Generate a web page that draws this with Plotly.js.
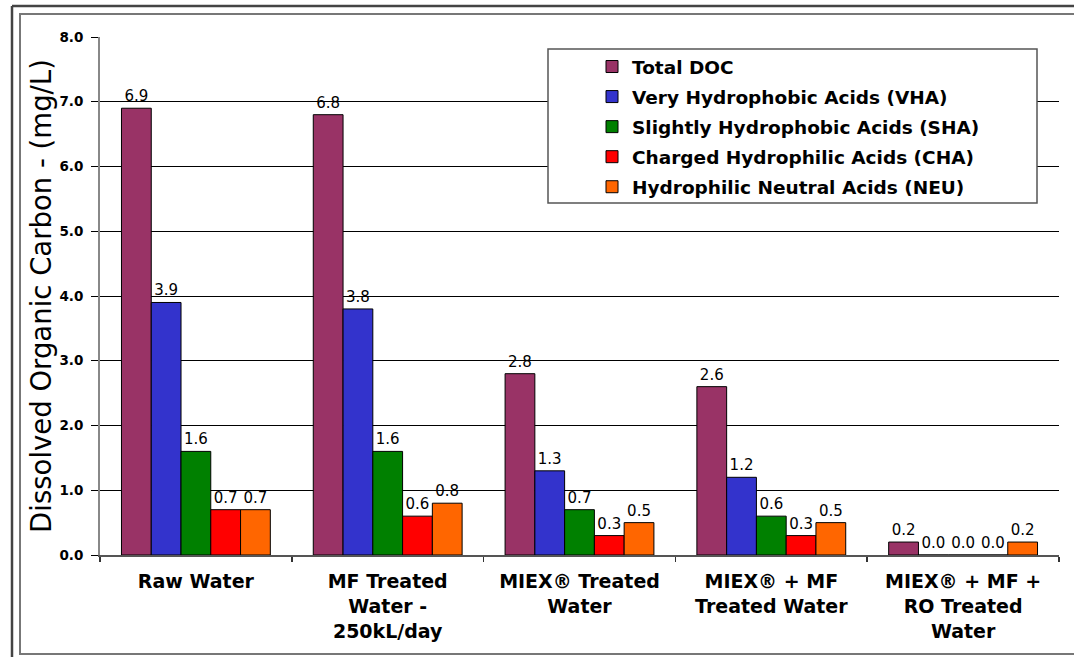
<!DOCTYPE html>
<html>
<head>
<meta charset="utf-8">
<script src="https://cdn.plot.ly/plotly-3.0.1.min.js"></script>
<style>
  html, body { margin: 0; padding: 0; background: #fff; }
  #chart { width: 1074px; height: 657px; }
</style>
</head>
<body>
<div id="chart"></div>
<script>
// ---- Data ----
const categories = [
  'Raw Water',
  'MF Treated<br>Water -<br>250kL/day',
  'MIEX® Treated<br>Water',
  'MIEX® + MF<br>Treated Water',
  'MIEX® + MF +<br>RO Treated<br>Water'
];
const seriesNames = [
  'Total DOC',
  'Very Hydrophobic Acids (VHA)',
  'Slightly Hydrophobic Acids (SHA)',
  'Charged Hydrophilic Acids (CHA)',
  'Hydrophilic Neutral Acids (NEU)'
];
const totalDOC = [6.9, 6.8, 2.8, 2.6, 0.2];
const vha      = [3.9, 3.8, 1.3, 1.2, 0.0];
const sha      = [1.6, 1.6, 0.7, 0.6, 0.0];
const cha      = [0.7, 0.6, 0.3, 0.3, 0.0];
const neu      = [0.7, 0.8, 0.5, 0.5, 0.2];
const yTickVals = [0, 1, 2, 3, 4, 5, 6, 7, 8];
const colors = ['#993366', '#3333CC', '#008000', '#FF0000', '#FF6600'];

// ---- Layout geometry ----
const W = 1074, H = 657, ML = 100, MR = 15, MT = 37, MB = 102;
const PW = W - ML - MR, PH = H - MT - MB;
const px = p => (p - ML) / PW;
const py = p => (H - MB - p) / PH;

const seriesValues = [totalDOC, vha, sha, cha, neu];
const FONT = 'DejaVu Sans, Arial, sans-serif';

const traces = seriesValues.map((vals, i) => ({
  type: 'bar',
  name: seriesNames[i],
  x: categories,
  y: vals,
  legendgroup: 'g' + i,
  marker: { color: colors[i], line: { color: '#000', width: 1 } },
  text: vals.map(v => v.toFixed(1)),
  textposition: 'outside',
  textfont: { family: FONT, size: 15, color: '#000' },
  constraintext: 'none',
  cliponaxis: false,
  hoverinfo: 'x+y+name'
}));

const layout = {
  width: W, height: H,
  margin: { l: ML, r: MR, t: MT, b: MB, pad: 0 },
  paper_bgcolor: '#fff',
  plot_bgcolor: '#fff',
  barmode: 'group',
  bargap: 0.224,
  bargroupgap: 0,
  showlegend: true,
  legend: {
    x: px(592), y: py(48), xanchor: 'left', yanchor: 'top',
    bgcolor: 'rgba(0,0,0,0)', borderwidth: 0,
    traceorder: 'grouped', tracegroupgap: 3,
    font: { family: FONT, size: 18.5, color: '#000', weight: 'bold' }
  },
  xaxis: {
    type: 'category',
    showline: true, linecolor: '#555', linewidth: 1.5,
    ticks: 'outside', tickson: 'boundaries', ticklen: 5, tickcolor: '#333', tickwidth: 1.5,
    ticklabelstandoff: 9,
    showgrid: false,
    tickfont: { family: FONT, size: 19, color: '#000', weight: 'bold' },
    automargin: false
  },
  yaxis: {
    range: [0, 8], tickvals: yTickVals, tickformat: '.1f',
    showline: true, linecolor: '#888', linewidth: 2,
    ticks: 'outside', ticklen: 7, tickcolor: '#000', tickwidth: 1,
    ticklabelstandoff: 5,
    showgrid: true, gridcolor: '#000', gridwidth: 1,
    zeroline: false,
    tickfont: { family: FONT, size: 13.5, color: '#000', weight: 'bold' },
    title: { text: 'Dissolved Organic Carbon - (mg/L)', font: { family: FONT, size: 27.5, color: '#000' }, standoff: 0 },
    automargin: false
  },
  shapes: [
    // legend box
    { type: 'rect', xref: 'paper', yref: 'paper', layer: 'above',
      x0: px(548), x1: px(1037), y0: py(49), y1: py(203),
      fillcolor: '#fff', line: { color: '#555', width: 1.5 } },
    // outer frame
    { type: 'line', xref: 'paper', yref: 'paper', layer: 'above',
      x0: px(12), x1: px(12), y0: py(6), y1: py(670), line: { color: '#444', width: 2.5 } },
    { type: 'line', xref: 'paper', yref: 'paper', layer: 'above',
      x0: px(12), x1: px(1090), y0: py(6), y1: py(6), line: { color: '#444', width: 2.5 } },
    // inner frame
    { type: 'rect', xref: 'paper', yref: 'paper', layer: 'above',
      x0: px(20), x1: px(1090), y0: py(14), y1: py(654),
      line: { color: '#777', width: 2 } }
  ]
};

Plotly.newPlot('chart', traces, layout, { displayModeBar: false, staticPlot: true });
</script>
</body>
</html>
